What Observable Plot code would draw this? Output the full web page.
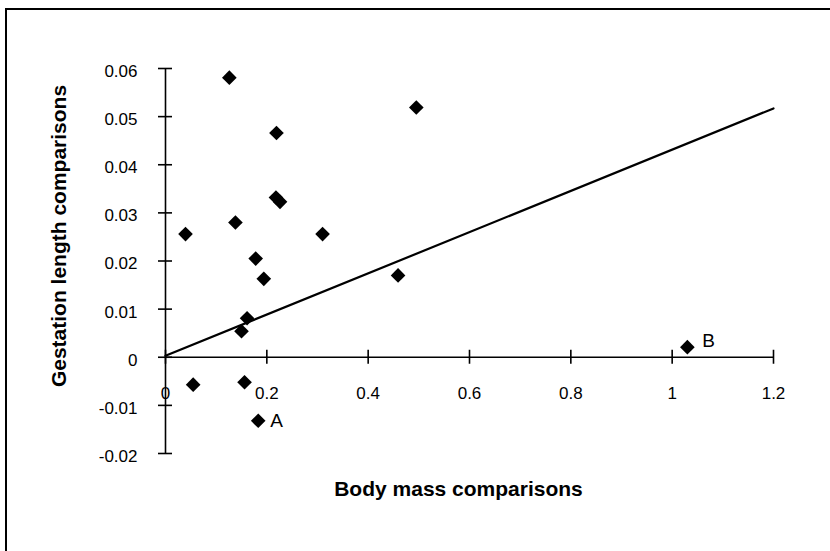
<!DOCTYPE html>
<html>
<head>
<meta charset="utf-8">
<script src="https://cdn.jsdelivr.net/npm/d3@7"></script>
<script src="https://cdn.jsdelivr.net/npm/@observablehq/plot@0.6"></script>
<style>
  html, body { margin: 0; padding: 0; background: #fff; }
  #wrap { position: relative; width: 830px; height: 551px; overflow: hidden; }
  #border { position: absolute; left: 5px; top: 8px; width: 900px; height: 700px;
            border-left: 2px solid #000; border-top: 2px solid #000; pointer-events: none; }
  svg { font-family: "Liberation Sans", Arial, Helvetica, sans-serif; }
</style>
</head>
<body>
<div id="wrap"><div id="border"></div></div>
<script>
const bodyMass  = [0.126, 0.495, 0.219, 0.218, 0.226, 0.138, 0.0395, 0.178, 0.194, 0.161, 0.150, 0.0546, 0.156, 0.183, 0.310, 0.459, 1.03];
const gestation = [0.0581, 0.0519, 0.0466, 0.0332, 0.0323, 0.0280, 0.0256, 0.0205, 0.0163, 0.0081, 0.0054, -0.0057, -0.0052, -0.0132, 0.0256, 0.0170, 0.0021];
const pointLabels = ["", "", "", "", "", "", "", "", "", "", "", "", "", "A", "", "", "B"];
const lineX = [0, 1.2];
const lineY = [0.0003, 0.0517];
const xTicks = [0, 0.2, 0.4, 0.6, 0.8, 1, 1.2];
const xTickLabels = ["0", "0.2", "0.4", "0.6", "0.8", "1", "1.2"];
const yTicks = [-0.02, -0.01, 0, 0.01, 0.02, 0.03, 0.04, 0.05, 0.06];
const yTickLabels = ["-0.02", "-0.01", "0", "0.01", "0.02", "0.03", "0.04", "0.05", "0.06"];
const xTitle = "Body mass comparisons";
const yTitle = "Gestation length comparisons";

const points = bodyMass.map((x, i) => ({x, y: gestation[i], label: pointLabels[i]}));
const fit = lineX.map((x, i) => ({x, y: lineY[i]}));
const xt = xTicks.map((v, i) => ({v, t: xTickLabels[i]}));
const yt = yTicks.map((v, i) => ({v, t: yTickLabels[i]}));

const chart = Plot.plot({
  width: 830,
  height: 551,
  marginLeft: 165,
  marginRight: 57,
  marginTop: 68,
  marginBottom: 98,
  style: {background: "transparent", fontFamily: "'Liberation Sans', Arial, sans-serif"},
  x: {domain: [0, 1.2], axis: null},
  y: {domain: [-0.02, 0.06], axis: null},
  marks: [
    // axes lines
    Plot.ruleY([0], {x1: 0, x2: 1.2, stroke: "#000", strokeWidth: 1.6}),
    Plot.ruleX([0], {y1: -0.02, y2: 0.06, stroke: "#000", strokeWidth: 1.6}),
    // tick marks (crossing)
    Plot.ruleX(xt, {x: "v", y1: 0, y2: 0, insetTop: -7, insetBottom: -7, stroke: "#000", strokeWidth: 1.6}),
    Plot.ruleY(yt, {y: "v", x1: 0, x2: 0, insetLeft: -7, insetRight: -7, stroke: "#000", strokeWidth: 1.6}),
    // tick labels
    Plot.text(xt, {x: "v", y: () => 0, text: "t", dy: 36, fontSize: 17, fill: "#000"}),
    Plot.text(yt, {x: () => 0, y: "v", text: "t", textAnchor: "end", dx: -28, dy: 3, fontSize: 17, fill: "#000"}),
    // regression line
    Plot.line(fit, {x: "x", y: "y", stroke: "#000", strokeWidth: 2.2}),
    // points
    Plot.dot(points, {x: "x", y: "y", symbol: "diamond2", r: 6.6, fill: "#000", stroke: "none"}),
    Plot.text(points.filter(d => d.label === "A"), {x: "x", y: "y", text: "label", textAnchor: "start", dx: 12, dy: 0, fontSize: 19, fill: "#000"}),
    Plot.text(points.filter(d => d.label === "B"), {x: "x", y: "y", text: "label", textAnchor: "start", dx: 15, dy: -6, fontSize: 19, fill: "#000"}),
    // axis titles
    Plot.text([xTitle], {frameAnchor: "bottom", textAnchor: "middle", dx: -11, dy: 42, text: d => d, fontSize: 21, fontWeight: "bold", fill: "#000"}),
    Plot.text([yTitle], {frameAnchor: "left", textAnchor: "middle", dx: -106, dy: -25, rotate: -90, text: d => d, fontSize: 21, fontWeight: "bold", fill: "#000"})
  ]
});
chart.style.position = "absolute";
chart.style.left = "0px";
chart.style.top = "0px";
const wrap = document.getElementById("wrap");
wrap.insertBefore(chart, wrap.firstChild);
</script>
</body>
</html>
